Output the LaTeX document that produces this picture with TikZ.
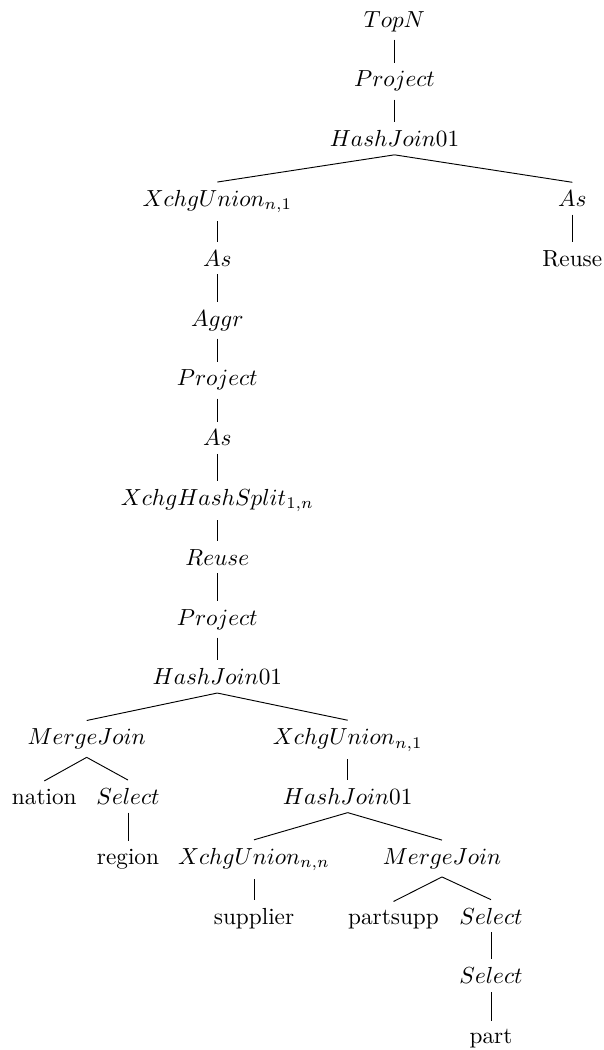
\documentclass[tikz,border=0pt]{standalone}
\begin{document}
\begin{tikzpicture}[x=0.43pt,y=-0.43pt,
  op/.style={anchor=base,inner sep=0.3333em},
  link/.style={draw,line width=0.4pt}]
\useasboundingbox (0,0) rectangle (603,1050);
% level baselines: 27 + 59.8k
\node[op] (top)   at (394.5,27.0)   {$TopN$};
\node[op] (proj1) at (394.5,86.8)   {$Project$};
\node[op] (hj1)   at (394.5,146.6)  {$HashJoin01$};
\node[op] (xu1)   at (217.3,206.4)  {$XchgUnion_{n,1}$};
\node[op] (asR)   at (572.3,206.4)  {$As$};
\node[op] (as1)   at (217.3,266.2)  {$As$};
\node[op] (reuR)  at (572.3,266.2)  {Reuse};
\node[op] (aggr)  at (217.3,326.0)  {$Aggr$};
\node[op] (proj2) at (217.3,385.8)  {$Project$};
\node[op] (as2)   at (217.3,445.6)  {$As$};
\node[op] (xhs)   at (217.3,505.4)  {$XchgHashSplit_{1,n}$};
\node[op] (reu)   at (217.3,565.2)  {$Reuse$};
\node[op] (proj3) at (217.3,625.0)  {$Project$};
\node[op] (hj2)   at (217.3,684.8)  {$HashJoin01$};
\node[op] (mj1)   at (86.7,744.6)   {$MergeJoin$};
\node[op] (xu2)   at (347.7,744.6)  {$XchgUnion_{n,1}$};
\node[op] (nat)   at (44.3,804.4)   {nation};
\node[op] (sel1)  at (128.0,804.4)  {$Select$};
\node[op] (hj3)   at (347.7,804.4)  {$HashJoin01$};
\node[op] (reg)   at (128.0,864.2)  {region};
\node[op] (xu3)   at (254.0,864.2)  {$XchgUnion_{n,n}$};
\node[op] (mj2)   at (442.0,864.2)  {$MergeJoin$};
\node[op] (sup)   at (254.0,924.0)  {supplier};
\node[op] (ps)    at (393.5,924.0)  {partsupp};
\node[op] (sel2)  at (491.0,924.0)  {$Select$};
\node[op] (sel3)  at (491.0,983.8)  {$Select$};
\node[op] (part)  at (491.0,1043.6) {part};
% parent-child links
\foreach \p/\c in {top/proj1,proj1/hj1,hj1/xu1,hj1/asR,xu1/as1,asR/reuR,
  as1/aggr,aggr/proj2,proj2/as2,as2/xhs,xhs/reu,reu/proj3,proj3/hj2,
  hj2/mj1,hj2/xu2,mj1/nat,mj1/sel1,sel1/reg,xu2/hj3,hj3/xu3,hj3/mj2,
  xu3/sup,mj2/ps,mj2/sel2,sel2/sel3,sel3/part}
  \draw[link] (\p.south) -- (\c.north);
\end{tikzpicture}
\end{document}
